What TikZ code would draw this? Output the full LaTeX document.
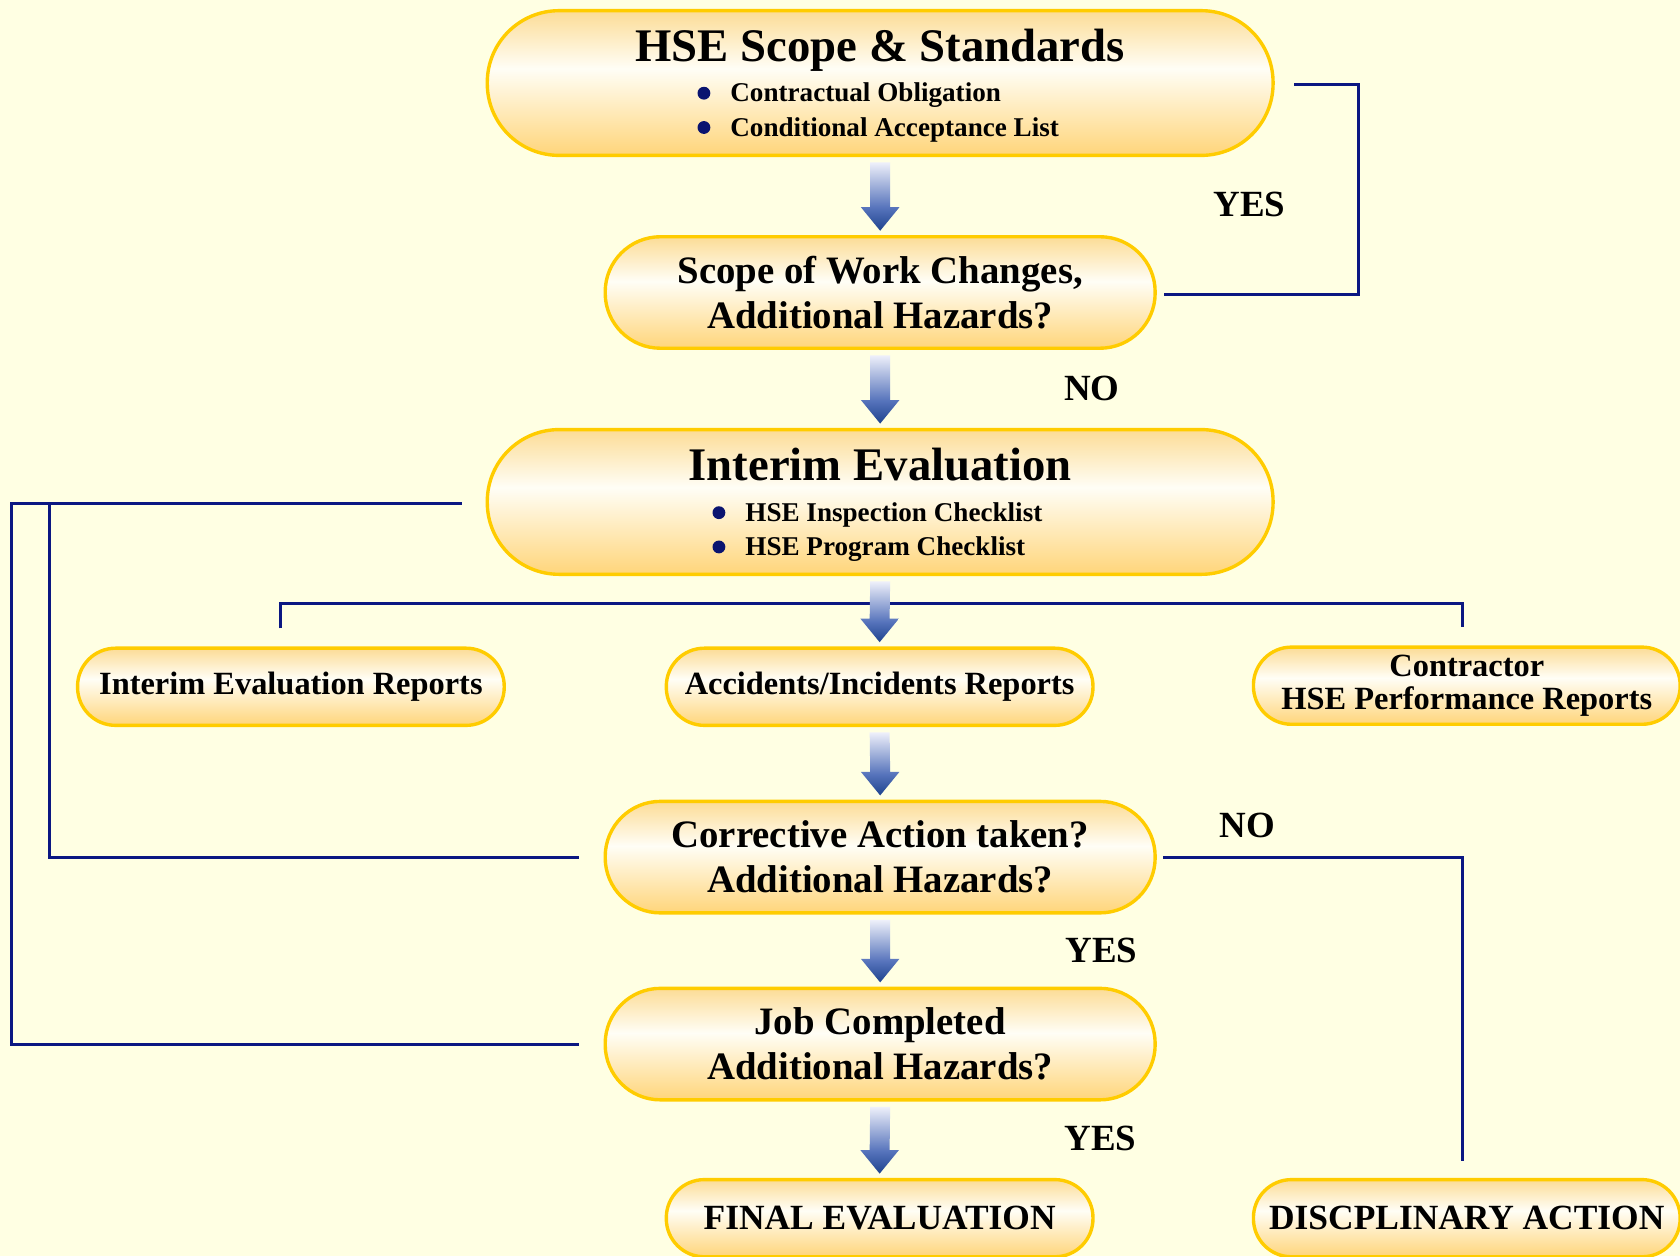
\documentclass[tikz,border=0pt]{standalone}
\usepackage{fontspec}
\setmainfont{Liberation Serif}
\usetikzlibrary{calc}
\usepackage{xcolor}
\definecolor{paper}{HTML}{FFFFE3}
\definecolor{gold}{HTML}{FFCC00}
\definecolor{boxtop}{HTML}{FCDC96}
\definecolor{boxmid}{HTML}{FFFEF6}
\definecolor{boxbot}{HTML}{FFD57A}
\definecolor{navy}{HTML}{0B1782}
\definecolor{dotblue}{HTML}{0A1470}
\definecolor{arrowlight}{HTML}{EEF0FA}
\definecolor{arrowmid}{HTML}{5774BC}
\definecolor{arrowdark}{HTML}{1E438E}
\pgfdeclareverticalshading{boxfade}{100bp}{color(0bp)=(boxbot); color(25bp)=(boxbot); color(55bp)=(boxmid); color(75bp)=(boxtop); color(100bp)=(boxtop)}
\pgfdeclareverticalshading{arrowfade}{100bp}{color(0bp)=(arrowdark); color(25bp)=(arrowdark); color(42bp)=(arrowmid); color(75bp)=(arrowlight); color(100bp)=(arrowlight)}
\tikzset{
  box/.style={rectangle, draw=gold, line width=0.9pt, shade, shading=boxfade, align=center, inner sep=0pt, font=\bfseries},
  bigbox/.style={box, minimum width=7.33cm, minimum height=1.35cm, rounded corners=0.67cm},
  askbox/.style={box, minimum width=5.13cm, minimum height=1.04cm, rounded corners=0.515cm, font=\bfseries\fontsize{10.3}{11.95}\selectfont},
  repbox/.style={box, minimum width=3.98cm, minimum height=0.72cm, rounded corners=0.355cm, font=\bfseries\fontsize{8.6}{9}\selectfont},
  endbox/.style={repbox, font=\bfseries\fontsize{9.4}{10}\selectfont},
  head/.style={font=\bfseries\fontsize{12.4}{14}\selectfont, anchor=base},
  item/.style={font=\bfseries\fontsize{7.2}{8}\selectfont, anchor=base west, inner sep=0pt},
  link/.style={draw=navy, line width=0.75pt},
  answer/.style={font=\bfseries\fontsize{9.8}{11}\selectfont},
}
\begin{document}
\begin{tikzpicture}[x=0.01cm, y=0.01cm]
\fill[paper] (0,0) rectangle (1568,-1172.3);
\useasboundingbox (0,0) rectangle (1568,-1172.3);
% boxes
\node[bigbox] (scope) at (821.5,-77.5) {};
\node[head] (scopehead) at (821.5,-57.6) {HSE Scope \& Standards};
\node[item] (scope1) at (681,-95) {Contractual Obligation};
\node[item] (scope2) at (681,-127) {Conditional Acceptance List};
\node[askbox] (change) at (821.5,-273) {Scope of Work Changes,\\Additional Hazards?};
\node[bigbox] (interim) at (821.5,-468.5) {};
\node[head] (interimhead) at (821.5,-448.5) {Interim Evaluation};
\node[item] (interim1) at (695,-486.5) {HSE Inspection Checklist};
\node[item] (interim2) at (695,-518.5) {HSE Program Checklist};
\node[repbox] (repint) at (271.5,-641) {Interim Evaluation Reports};
\node[repbox] (repacc) at (821,-641) {Accidents/Incidents Reports};
\node[repbox] (repcon) at (1369,-640) {Contractor\\HSE Performance Reports};
\node[askbox] (correct) at (821.5,-800) {Corrective Action taken?\\Additional Hazards?};
\node[askbox] (jobdone) at (821.5,-974.5) {Job Completed\\Additional Hazards?};
\node[endbox] (final) at (821,-1137) {FINAL EVALUATION};
\node[endbox] (disc) at (1369,-1137) {DISCPLINARY ACTION};
\foreach \i in {scope1,scope2,interim1,interim2}{\fill[dotblue] ($(\i.base west)+(-24,8)$) circle (6);}
% lines
\draw[link] ([xshift=0.18cm,yshift=-0.015cm]scope.east) -- ++(60,0) |- ([xshift=0.07cm,yshift=-0.02cm]change.east);
\draw[link] ([xshift=-0.22cm,yshift=-0.015cm]interim.west) -- ([xshift=-4.42cm,yshift=-0.015cm]interim.west) |- ([xshift=-0.23cm]jobdone.west);
\draw[link] ([xshift=-0.23cm]correct.west) -| ([xshift=-4.07cm,yshift=-0.015cm]interim.west);
\draw[link] ([xshift=-0.095cm,yshift=0.17cm]repint.north) |- ([yshift=0.4cm]repacc.north) -| ([xshift=-0.04cm,yshift=0.17cm]repcon.north);
\draw[link] ([xshift=0.06cm]correct.east) -| ([xshift=-0.04cm,yshift=0.16cm]disc.north);
% arrows
\foreach \a/\b in {scope/change, change/interim, interim/repacc, repacc/correct, correct/jobdone, jobdone/final}{
\shade[shading=arrowfade] ($(\a.south)+(-9.3,-5)$) -- ($(\b.north)+(-9.3,26)$) -- ($(\b.north)+(-18,26)$) -- ($(\b.north)+(0,4)$) -- ($(\b.north)+(18,26)$) -- ($(\b.north)+(9.3,26)$) -- ($(\a.south)+(9.3,-5)$) -- cycle;}
% answers
\node[answer] (yes1) at (1166,-191) {YES};
\node[answer] (no1) at (1019,-363) {NO};
\node[answer] (no2) at (1164,-770) {NO};
\node[answer] (yes2) at (1028,-887) {YES};
\node[answer] (yes3) at (1027,-1063) {YES};
\end{tikzpicture}
\end{document}
